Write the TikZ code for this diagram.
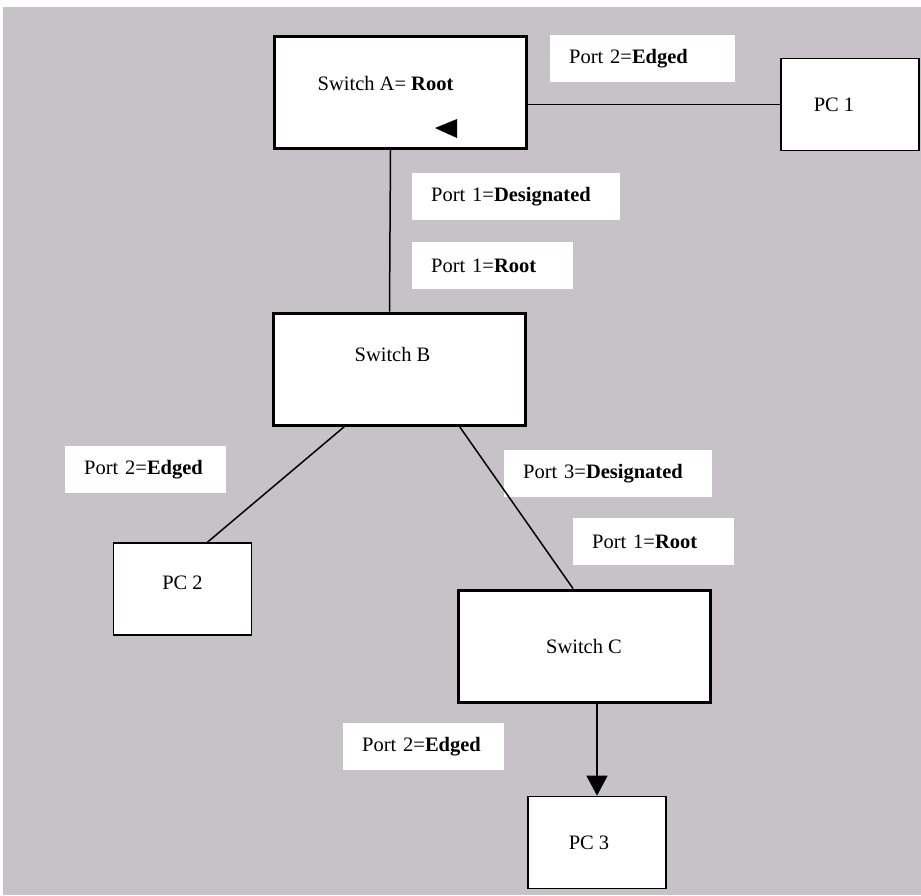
\documentclass[tikz,border=0pt]{standalone}
\usepackage{fontspec}
\setmainfont{Liberation Serif}
\usetikzlibrary{positioning, arrows.meta}
\definecolor{bggrey}{RGB}{198,194,200}
\tikzset{
    every node/.style={font=\fontsize{20.5}{24}\selectfont},
    switch/.style={draw, line width=3pt, fill=white, minimum width=252pt, minimum height=112pt, inner sep=0pt},
    pc/.style={draw, line width=1.7pt, fill=white, minimum width=138pt, minimum height=92pt, inner sep=0pt},
    port/.style={fill=white, anchor=north west, minimum height=47pt, inner xsep=19pt, inner ysep=0pt, align=left, text width=#1},
    port/.default=123pt,
    link/.style={line width=1.5pt},
}

\begin{document}
\begin{tikzpicture}[x=1pt, y=-1pt]
    \useasboundingbox (0,0) rectangle (921,895);
    \fill[white] (0,0) rectangle (921,895);
    \fill[bggrey] (3,7) rectangle (921,895);

    \node[switch, label={[xshift=-15pt, yshift=9.5pt]center:Switch A= \textbf{Root}}] (swA) at (400.5,92.5) {};
    \node[switch, label={[xshift=-7pt, yshift=15pt]center:Switch B}] (swB) at (399.5,369) {};
    \node[switch] (swC) at (584,646) {Switch C};
    \node[pc, label={[xshift=-16pt]center:PC 1}] (pc1) at (850,104.5) {};
    \node[pc, label={[yshift=6pt]center:PC 2}] (pc2) at (182.5,589) {};
    \node[pc, label={[xshift=-8pt]center:PC 3}] (pc3) at (597,842.5) {};

    \node[port=147pt] (lbA2) at (550,35) {Port 2=\textbf{Edged}};
    \node[port=170pt] (lbA1) at (412,173) {Port 1=\textbf{Designated}};
    \node[port] (lbB1) at (412,242) {Port 1=\textbf{Root}};
    \node[port] (lbB2) at (65,446) {Port 2=\textbf{Edged}};
    \node[port=170pt] (lbB3) at (504,450) {Port 3=\textbf{Designated}};
    \node[port] (lbC1) at (573,518) {Port 1=\textbf{Root}};
    \node[port] (lbC2) at (343,723) {Port 2=\textbf{Edged}};

    \fill (435,128) -- (457,119) -- (457,138) -- cycle;

    \draw[link] (pc1.west -| swA.east) -- (pc1.west);
    \draw[link] ([xshift=-10pt]swA.south) -- ([xshift=-10pt]swB.north);
    \draw[link] ([xshift=-55pt]swB.south) -- ([xshift=25pt]pc2.north);
    \draw[link] ([xshift=60pt]swB.south) -- ([xshift=-11pt]swC.north);
    \draw[link, -{Triangle[length=20pt, width=21pt]}] (pc3.north |- swC.south) -- (pc3.north);
\end{tikzpicture}
\end{document}
